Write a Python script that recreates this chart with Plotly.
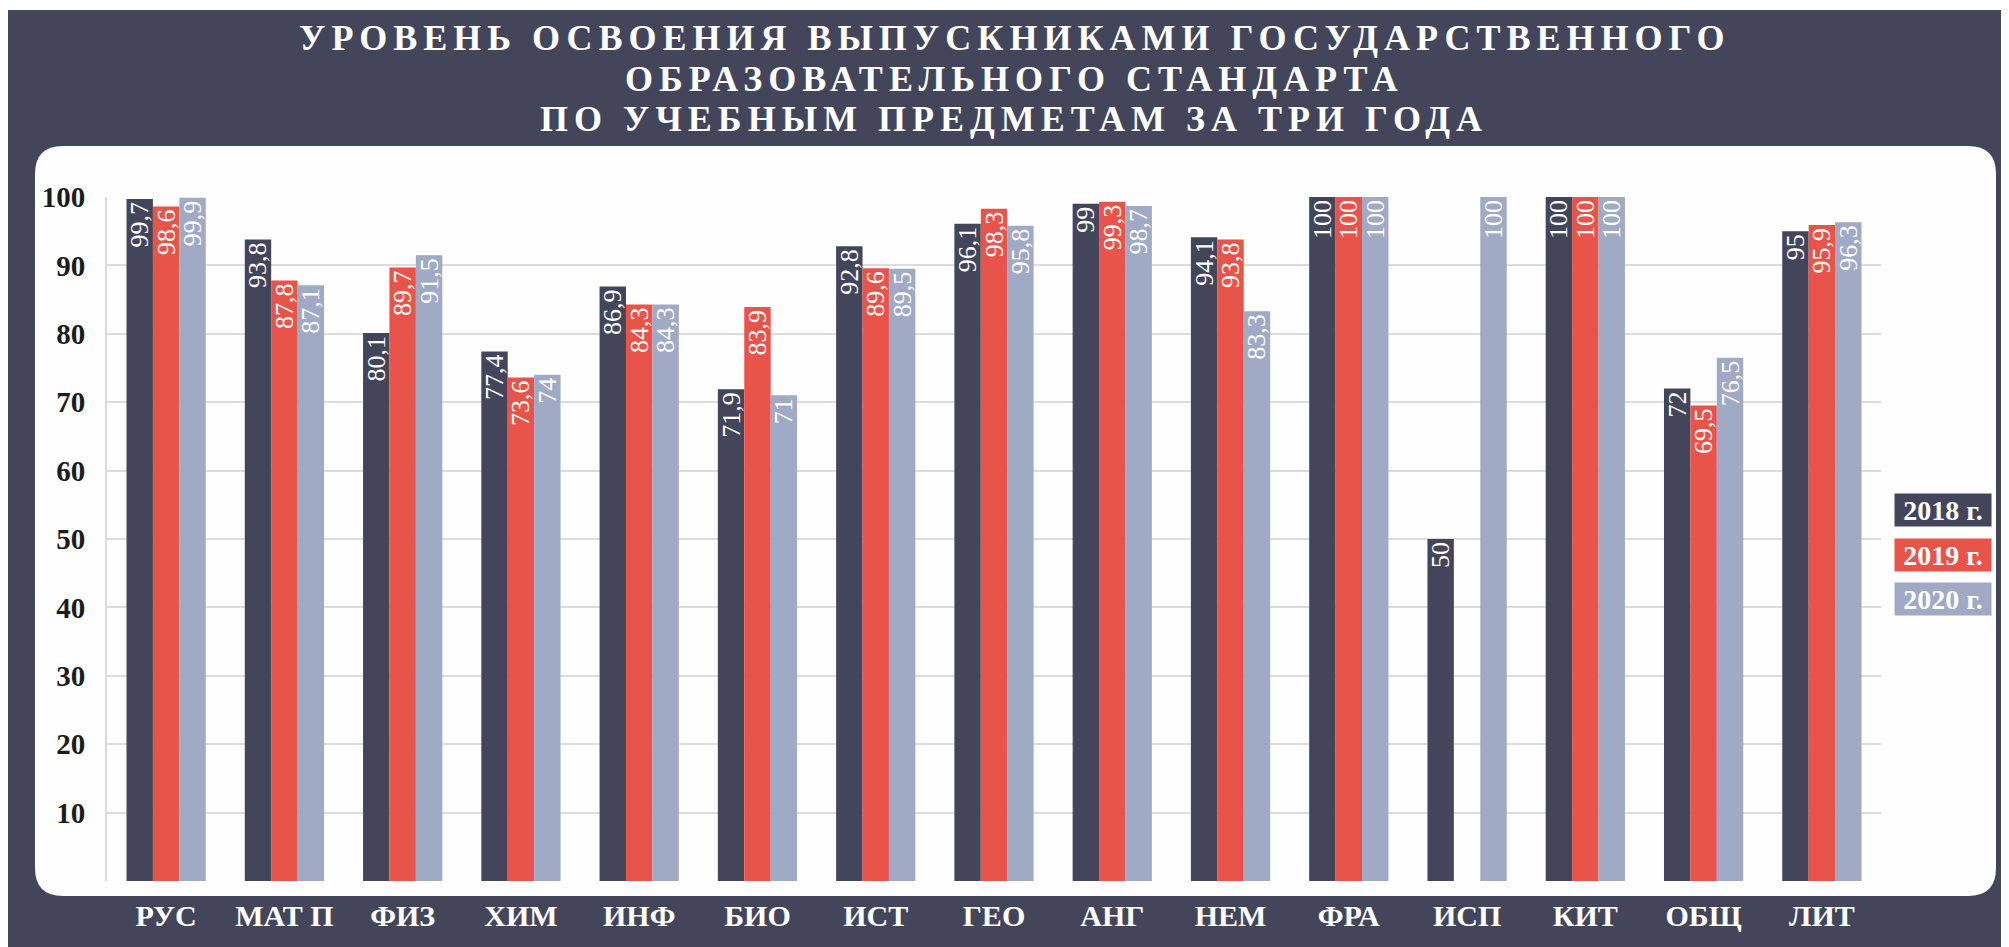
import plotly.graph_objects as go

# --- data -------------------------------------------------------------
SUBJECTS = ["РУС", "МАТ П", "ФИЗ", "ХИМ", "ИНФ", "БИО", "ИСТ", "ГЕО",
            "АНГ", "НЕМ", "ФРА", "ИСП", "КИТ", "ОБЩ", "ЛИТ"]
YEARS = ["2018 г.", "2019 г.", "2020 г."]
V2018 = [99.7, 93.8, 80.1, 77.4, 86.9, 71.9, 92.8, 96.1, 99, 94.1, 100, 50, 100, 72, 95]
V2019 = [98.6, 87.8, 89.7, 73.6, 84.3, 83.9, 89.6, 98.3, 99.3, 93.8, 100, None, 100, 69.5, 95.9]
V2020 = [99.9, 87.1, 91.5, 74, 84.3, 71, 89.5, 95.8, 98.7, 83.3, 100, 100, 100, 76.5, 96.3]
Y_TICKS = [10, 20, 30, 40, 50, 60, 70, 80, 90, 100]

TITLE_LINES = ["УРОВЕНЬ ОСВОЕНИЯ ВЫПУСКНИКАМИ ГОСУДАРСТВЕННОГО",
               "ОБРАЗОВАТЕЛЬНОГО СТАНДАРТА",
               "ПО УЧЕБНЫМ ПРЕДМЕТАМ ЗА ТРИ ГОДА"]

DARK = "#43465a"
RED = "#e8534a"
BLUE = "#a0aac5"
COLORS = [DARK, RED, BLUE]
SERIF = "Liberation Serif"

# --- geometry -------------------------------------------------------------
# the page body has an 8px margin, so the figure sits at (8, 8) on the page;
# all positions below are page pixels
OFF = 8
PAGE_W, PAGE_H = 2009, 947
W, H = PAGE_W - OFF, PAGE_H - OFF
PL, PR, PT, PB = 107, 1881, 197, 881   # plot area on the page


def xp(px):
    return (px - PL) / (PR - PL)


def yp(py):
    return (PB - py) / (PB - PT)


def rounded_rect(x0, y0, x1, y1, r):
    # rounded rectangle in paper coords from a pixel box
    rx = r / (PR - PL)
    ry = r / (PB - PT)
    a, b, c, d = xp(x0), xp(x1), yp(y0), yp(y1)   # c = top, d = bottom
    return (f"M {a + rx},{c} L {b - rx},{c} Q {b},{c} {b},{c - ry} "
            f"L {b},{d + ry} Q {b},{d} {b - rx},{d} "
            f"L {a + rx},{d} Q {a},{d} {a},{d + ry} "
            f"L {a},{c - ry} Q {a},{c} {a + rx},{c} Z")


def fmt(v):
    return "" if v is None else f"{v:g}".replace(".", ",")


fig = go.Figure()

for name, vals, color in zip(YEARS, [V2018, V2019, V2020], COLORS):
    fig.add_trace(go.Bar(
        x=SUBJECTS,
        y=vals,
        name=name,
        marker=dict(color=color, line=dict(width=0)),
        text=[fmt(v) for v in vals],
        textposition="inside",
        insidetextanchor="end",
        textangle=-90,
        constraintext="none",
        textfont=dict(family=SERIF, size=26, color="white"),
        hoverinfo="x+y+name",
    ))

shapes = [
    # dark backdrop
    dict(type="rect", xref="paper", yref="paper", layer="below",
         x0=xp(8), x1=xp(PAGE_W + 5), y0=yp(10), y1=yp(PAGE_H + 5),
         fillcolor=DARK, line=dict(width=0)),
    # white rounded panel
    dict(type="path", xref="paper", yref="paper", layer="below",
         path=rounded_rect(35, 146, 1996, 896, 28),
         fillcolor="#fefefe", line=dict(width=0)),
]

annotations = []
# title, one line per annotation
for line, cy in zip(TITLE_LINES, [38, 79, 119]):
    annotations.append(dict(
        text=f'<span style="letter-spacing:6px">{line}</span>',
        xref="paper", yref="paper", x=xp(1014), y=yp(cy),
        xanchor="center", yanchor="middle", showarrow=False,
        font=dict(family=SERIF, size=36, color="white", weight="bold"),
    ))

# legend boxes
for i, (name, color) in enumerate(zip(YEARS, COLORS)):
    annotations.append(dict(
        text=name, xref="paper", yref="paper",
        x=xp(1943), y=yp(510 + 44.7 * i), xanchor="center", yanchor="middle",
        showarrow=False, bgcolor=color, width=92, height=28, borderpad=2,
        font=dict(family=SERIF, size=28, color="white", weight="bold"),
    ))

fig.update_layout(
    width=W, height=H,
    margin=dict(l=PL - OFF, r=W - (PR - OFF), t=PT - OFF, b=H - (PB - OFF), pad=0),
    paper_bgcolor="white",
    plot_bgcolor="rgba(0,0,0,0)",
    barmode="group",
    bargap=0.33,
    bargroupgap=0,
    showlegend=False,
    shapes=shapes,
    annotations=annotations,
    xaxis=dict(
        showgrid=False, zeroline=False, showline=False, automargin=False,
        ticks="", ticklabelstandoff=14,
        tickfont=dict(family=SERIF, size=30, color="white", weight="bold"),
    ),
    yaxis=dict(
        range=[0, 100], tickvals=Y_TICKS, automargin=False,
        showgrid=True, gridcolor="#dcdcdc", gridwidth=2,
        zeroline=False, showline=True, linecolor="#d9d9d9", linewidth=2,
        ticks="", ticklabelstandoff=14,
        tickfont=dict(family=SERIF, size=29, color="#1c1c1c", weight="bold"),
    ),
)

fig.write_html("out.html")
